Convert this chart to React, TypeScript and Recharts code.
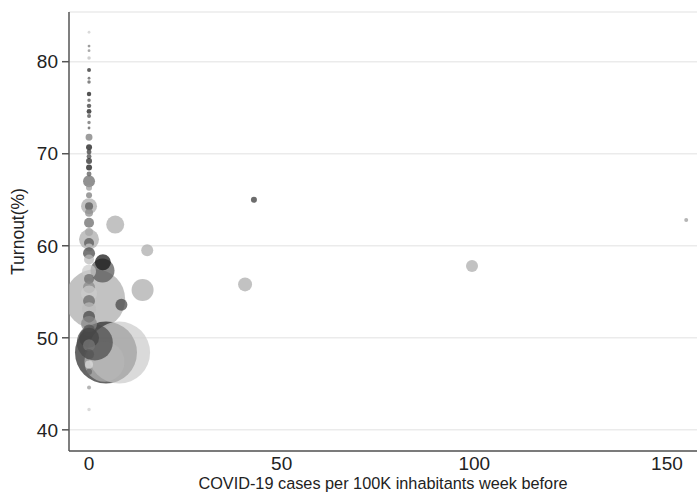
import React from "react";
import { ScatterChart, Scatter, XAxis, YAxis, ZAxis, CartesianGrid, Cell, Label } from "recharts";

// cases per 100K (x), turnout % (y), bubble size (population weight), gray shade
const cases = [
  1.6, 4.4, 7.8, 4.0, 1.5, 3.5, 3.6, 6.8, 15.1, 13.9, 8.4, 42.8, 155, 99.4, 40.5,
  0, 0, 0, 0, 0, 0, 0, 0, 0, 0, 0, 0, 0, 0, 0, 0, 0, 0, 0, 0, 0, 0, 0, 0, 0, 0,
  0, 0, 0, 0, 0, 0, 0, 0, 0, 0, 0, 0, 0, 0, 0, 0, 0, 0, 0, 0, 0, 0, 0, 0, 0,
];
const turnout = [
  54.2, 48.4, 48.4, 47.4, 49.5, 57.3, 58.2, 62.3, 59.5, 55.2, 53.6, 65.0, 62.8, 57.8, 55.8,
  83.2, 81.7, 81.2, 80.4, 79.1, 78.2, 77.8, 76.5, 75.8, 75.2, 74.6, 74.1, 73.4, 72.8, 71.8,
  70.7, 70.2, 69.7, 69.2, 68.5, 67.8, 67.0, 66.3, 65.5, 64.3, 64.3, 63.6, 62.5, 61.5, 60.7,
  60.3, 59.8, 59.2, 58.5, 57.2, 56.4, 55.5, 54.8, 54.0, 53.1, 52.3, 51.5, 50.8, 50.0, 49.2,
  48.2, 47.1, 46.3, 44.6, 42.2,
];
const sizes = [
  900, 961, 961, 400, 324, 144, 64, 81, 36, 121, 36, 9, 4, 36, 49,
  2, 2, 2, 3, 4, 2, 3, 5, 3, 5, 6, 4, 3, 2, 12,
  9, 6, 6, 9, 9, 6, 36, 9, 9, 64, 16, 16, 25, 16, 100,
  25, 16, 36, 25, 49, 25, 36, 64, 36, 49, 36, 64, 36, 100, 36,
  25, 16, 9, 4, 3,
];
const shades = [
  "#aaaaaa", "#2a2a2a", "#cccccc", "#b5b5b5", "#4a4a4a", "#555555", "#111111", "#aaaaaa", "#aaaaaa", "#aaaaaa", "#444444", "#333333", "#999999", "#aaaaaa", "#aaaaaa",
  "#cccccc", "#777777", "#888888", "#bbbbbb", "#222222", "#555555", "#555555", "#111111", "#555555", "#333333", "#111111", "#444444", "#666666", "#555555", "#777777",
  "#111111", "#333333", "#444444", "#222222", "#111111", "#555555", "#666666", "#999999", "#777777", "#aaaaaa", "#555555", "#888888", "#666666", "#999999", "#aaaaaa",
  "#555555", "#cccccc", "#444444", "#bbbbbb", "#cccccc", "#666666", "#888888", "#cccccc", "#666666", "#bbbbbb", "#444444", "#888888", "#555555", "#444444", "#777777",
  "#555555", "#dddddd", "#666666", "#999999", "#cccccc",
];

const xTicks = [0, 50, 100, 150];
const yTicks = [40, 50, 60, 70, 80];

const data = cases.map((c, i) => ({ x: c, y: turnout[i], z: sizes[i] }));

const font = "'Liberation Sans', Arial, sans-serif";

export default function App() {
  return (
    <div style={{ position: "absolute", left: 0, top: 0, width: 697, height: 492, background: "#fff" }}>
      <ScatterChart width={697} height={492} margin={{ top: 12, right: 0, bottom: 0, left: 0 }}>
        <CartesianGrid vertical={false} stroke="#ebebeb" strokeWidth={1.5} />
        <XAxis
          type="number"
          dataKey="x"
          domain={[-5.2, 157.8]}
          ticks={xTicks}
          allowDataOverflow
          height={41}
          tickLine={false}
          tickSize={6}
          tickMargin={0}
          axisLine={{ stroke: "#555", strokeWidth: 1.5 }}
          tick={{ fontSize: 19, fill: "#222", fontFamily: font }}
        >
          <Label
            value="COVID-19 cases per 100K inhabitants week before"
            position="insideBottom"
            offset={3}
            style={{ fontSize: 16.3, fill: "#222", fontFamily: font }}
          />
        </XAxis>
        <YAxis
          type="number"
          dataKey="y"
          domain={[37.7, 85.4]}
          ticks={yTicks}
          allowDataOverflow
          width={69}
          tickSize={7}
          tickMargin={4}
          tickLine={{ stroke: "#555", strokeWidth: 1.5 }}
          axisLine={{ stroke: "#555", strokeWidth: 1.5 }}
          tick={{ fontSize: 19, fill: "#222", fontFamily: font }}
        >
          <Label
            value="Turnout(%)"
            angle={-90}
            position="center"
            dx={-17}
            style={{ fontSize: 17.5, fill: "#222", fontFamily: font, textAnchor: "middle" }}
          />
        </YAxis>
        <ZAxis type="number" dataKey="z" domain={[0, 1000]} range={[0, 3141.6]} />
        <Scatter data={data} isAnimationActive={false}>
          {data.map((d, i) => (
            <Cell key={i} fill={shades[i]} fillOpacity={0.72} />
          ))}
        </Scatter>
      </ScatterChart>
    </div>
  );
}
